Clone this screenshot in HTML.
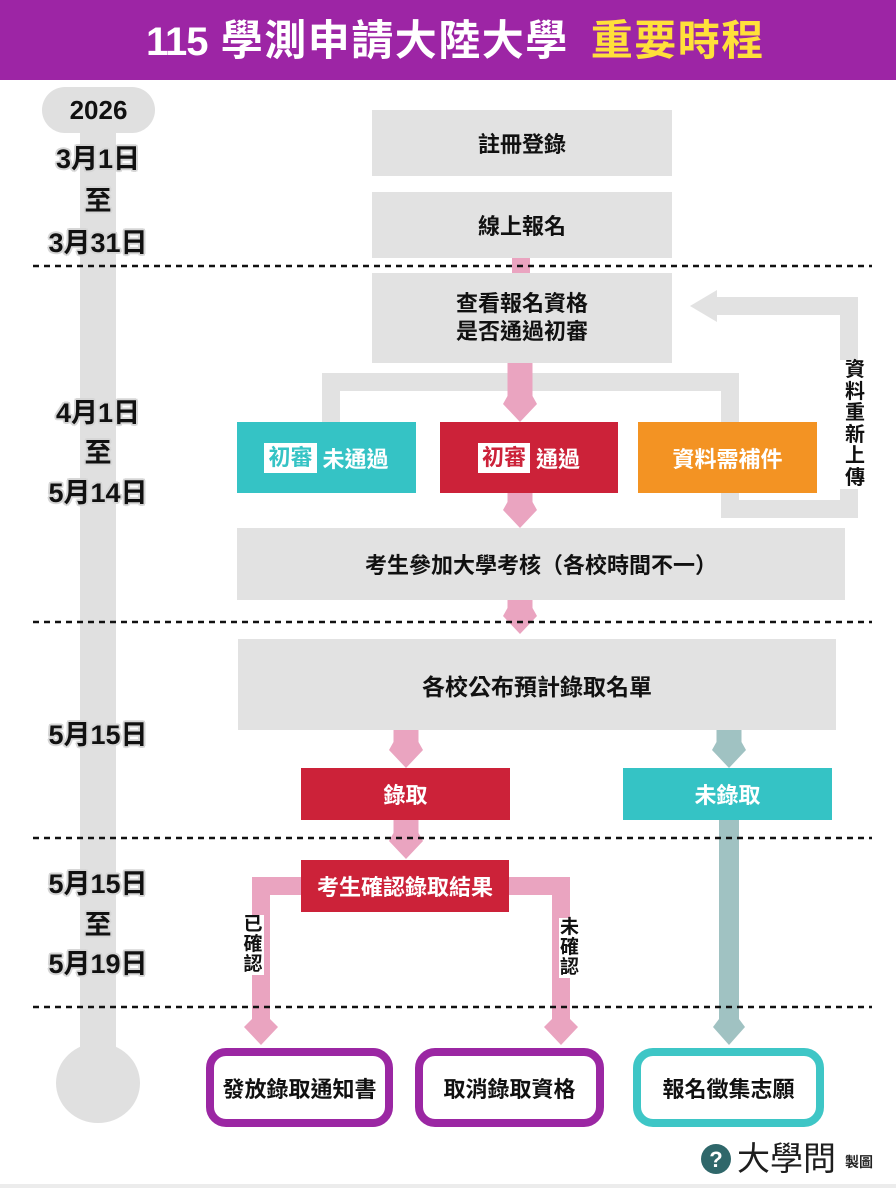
<!DOCTYPE html>
<html><head><meta charset="utf-8">
<style>
*{margin:0;padding:0;box-sizing:border-box}
body{width:896px;height:1188px;position:relative;overflow:hidden;background:#fff;font-family:"Liberation Sans","Noto Sans CJK TC",sans-serif;}
.box{position:absolute;display:flex;align-items:center;justify-content:center;font-weight:700;font-size:22px;color:#111;text-align:center;white-space:nowrap;z-index:2}
.g{background:#e2e2e2}
.d{position:absolute;left:0;width:196px;text-align:center;font-weight:700;font-size:27px;line-height:30px;color:#111;z-index:3;
text-shadow:-2px 0 #d6d6d6,2px 0 #d6d6d6,0 -2px #d6d6d6,0 2px #d6d6d6,-1.5px -1.5px #d6d6d6,1.5px 1.5px #d6d6d6,-1.5px 1.5px #d6d6d6,1.5px -1.5px #d6d6d6;}
.badge{background:#fff;font-size:22px;padding:0 4px;height:30px;line-height:30px;display:inline-block;margin-right:6px}
.vt{position:absolute;background:#fff;font-weight:700;color:#111;text-align:center;z-index:3}
.fin{position:absolute;top:1048px;height:79px;border-radius:20px;border:8px solid #9b27a3;background:#fff;display:flex;align-items:center;justify-content:center;font-weight:700;font-size:22px;color:#111;z-index:2}
</style></head>
<body>
<!-- header -->
<div style="position:absolute;left:0;top:0;width:896px;height:80px;background:#9d25a5;"></div>
<div style="position:absolute;left:146px;top:0;height:80px;line-height:82px;font-weight:700;font-size:42px;color:#fff;white-space:nowrap;z-index:2;letter-spacing:1.5px">
<span style="font-size:40px;letter-spacing:-1px">115</span> 學測申請大陸大學<span style="display:inline-block;width:22px"></span><span style="color:#ffe03a">重要時程</span></div>

<svg width="896" height="1188" style="position:absolute;left:0;top:0;z-index:1">
  <!-- timeline -->
  <rect x="80" y="110" width="36" height="960" fill="#e0e0e0"/>
  <ellipse cx="98" cy="1083" rx="42" ry="40" fill="#e0e0e0"/>
  <rect x="42" y="87" width="113" height="46" rx="23" fill="#e0e0e0"/>
  <!-- loop / bracket -->
  <g fill="#e2e2e2">
    <rect x="716" y="297" width="142" height="18"/>
    <polygon points="690,306 717,290 717,322"/>
    <rect x="840" y="297" width="18" height="221"/>
    <rect x="721" y="500" width="137" height="18"/>
    <rect x="721" y="373" width="18" height="145"/>
    <rect x="322" y="373" width="417" height="18"/>
    <rect x="322" y="373" width="18" height="49"/>
  </g>
  <!-- pink arrows -->
  <g fill="#eaa4c0">
    <rect x="512" y="258" width="18" height="15"/>
    <polygon points="507.5,363 532.5,363 532.5,396 537,404 520,422 503,404 507.5,396"/>
    <polygon points="507.5,493 532.5,493 532.5,502 537,510 520,528 503,510 507.5,502"/>
    <polygon points="507.5,600 532.5,600 532.5,608 537,616 520,634 503,616 507.5,608"/>
    <polygon points="393.5,730 418.5,730 418.5,742 423,750 406,768 389,750 393.5,742"/>
    <polygon points="393.5,820 418.5,820 418.5,833 423,841 406,859 389,841 393.5,833"/>
    <!-- left branch -->
    <polygon points="310,877 252,877 252,1019 244,1027 261,1045 278,1027 270,1019 270,895 310,895"/>
    <!-- right branch -->
    <polygon points="500,877 570,877 570,1019 578,1027 561,1045 544,1027 552,1019 552,895 500,895"/>
  </g>
  <!-- teal-gray arrows -->
  <g fill="#a0c2c2">
    <polygon points="716.5,730 741.5,730 741.5,742 746,750 729,768 712,750 716.5,742"/>
    <polygon points="719,815 739,815 739,1019 745,1027 729,1045 713,1027 719,1019"/>
  </g>
  <!-- dotted lines -->
  <g stroke="#111" stroke-width="2.5" stroke-dasharray="6 5">
    <line x1="33" y1="266" x2="872" y2="266"/>
    <line x1="33" y1="622" x2="872" y2="622"/>
    <line x1="33" y1="838" x2="872" y2="838"/>
    <line x1="33" y1="1007" x2="872" y2="1007"/>
  </g>
  <!-- logo icon -->
  <circle cx="716" cy="1159" r="15" fill="#2f676a"/>
  <text x="716" y="1167" text-anchor="middle" font-family="Liberation Sans, sans-serif" font-weight="700" font-size="22" fill="#fff">?</text>
</svg>

<!-- 2026 -->
<div style="position:absolute;left:42px;top:87px;width:113px;height:46px;line-height:46px;text-align:center;font-weight:700;font-size:26px;color:#111;z-index:3">2026</div>

<!-- date labels -->
<div class="d" style="top:144px">3月1日</div>
<div class="d" style="top:186px">至</div>
<div class="d" style="top:228px">3月31日</div>
<div class="d" style="top:398px">4月1日</div>
<div class="d" style="top:438px">至</div>
<div class="d" style="top:478px">5月14日</div>
<div class="d" style="top:720px">5月15日</div>
<div class="d" style="top:869px">5月15日</div>
<div class="d" style="top:910px">至</div>
<div class="d" style="top:949px">5月19日</div>

<!-- gray boxes -->
<div class="box g" style="left:372px;top:110px;width:300px;height:66px">註冊登錄</div>
<div class="box g" style="left:372px;top:192px;width:300px;height:66px">線上報名</div>
<div class="box g" style="left:372px;top:273px;width:300px;height:90px;line-height:28px;white-space:normal">查看報名資格<br>是否通過初審</div>

<!-- result row -->
<div class="box" style="left:237px;top:422px;width:179px;height:71px;background:#35c3c5;color:#fff">
  <span class="badge" style="color:#35c3c5">初審</span>未通過</div>
<div class="box" style="left:440px;top:422px;width:178px;height:71px;background:#cc2239;color:#fff">
  <span class="badge" style="color:#cc2239">初審</span>通過</div>
<div class="box" style="left:638px;top:422px;width:179px;height:71px;background:#f39323;color:#fff">資料需補件</div>

<div class="vt" style="left:840px;top:360px;width:30px;font-size:20px;line-height:21.5px">資<br>料<br>重<br>新<br>上<br>傳</div>

<div class="box g" style="left:237px;top:528px;width:608px;height:72px">考生參加大學考核（各校時間不一）</div>
<div class="box g" style="left:238px;top:639px;width:598px;height:91px;font-size:23px">各校公布預計錄取名單</div>

<div class="box" style="left:301px;top:768px;width:209px;height:52px;background:#cc2239;color:#fff">錄取</div>
<div class="box" style="left:623px;top:768px;width:209px;height:52px;background:#35c3c5;color:#fff">未錄取</div>

<div class="box" style="left:301px;top:860px;width:208px;height:52px;background:#cc2239;color:#fff">考生確認錄取結果</div>

<div class="vt" style="left:242px;top:915px;width:22px;font-size:19px;line-height:20px">已<br>確<br>認</div>
<div class="vt" style="left:559px;top:918px;width:21px;font-size:19px;line-height:20px">未<br>確<br>認</div>

<!-- final boxes -->
<div class="fin" style="left:206px;width:187px">發放錄取通知書</div>
<div class="fin" style="left:415px;width:189px">取消錄取資格</div>
<div class="fin" style="left:633px;width:191px;border-color:#3ec6c6">報名徵集志願</div>

<!-- logo -->
<div style="position:absolute;left:737px;top:1139px;font-size:33px;line-height:40px;color:#1e1e1e;white-space:nowrap;z-index:2">大學問</div>
<div style="position:absolute;left:845px;top:1152px;font-size:14px;line-height:20px;font-weight:700;color:#222;white-space:nowrap;z-index:2">製圖</div>

<div style="position:absolute;left:0;top:1184px;width:896px;height:4px;background:#ececec"></div>
</body></html>
